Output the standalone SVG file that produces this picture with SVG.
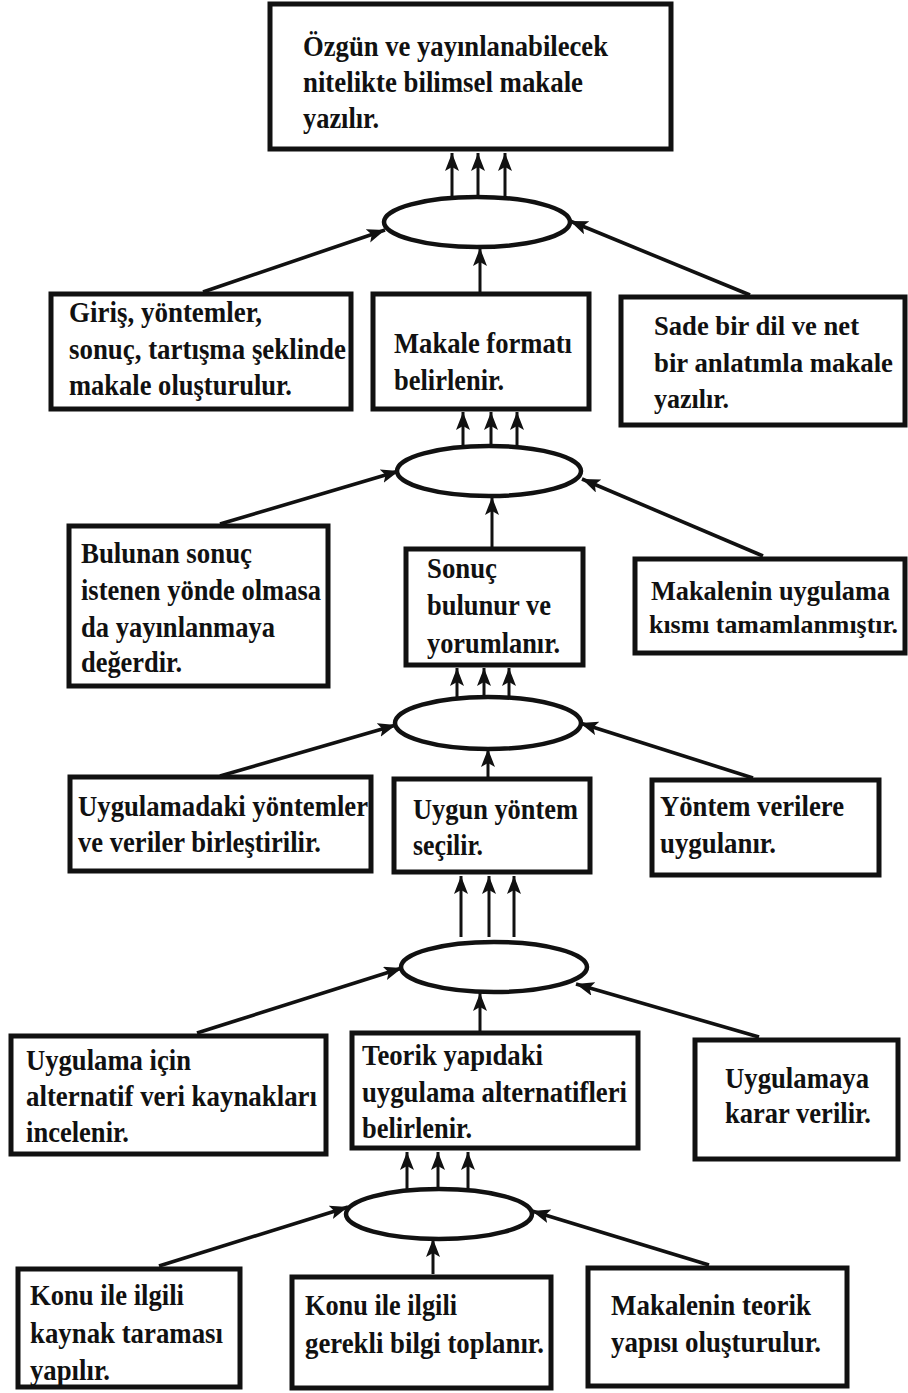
<svg xmlns="http://www.w3.org/2000/svg" width="908" height="1393" viewBox="0 0 908 1393">
<style>
.box{fill:#fff;stroke:#111;stroke-width:5}
.ell{fill:#fff;stroke:#111;stroke-width:4.5}
.t{font-family:"Liberation Serif","Times New Roman",serif;font-weight:bold;font-size:29px;fill:#111}
.s28{font-size:28px}
.s27{font-size:27px}
.s26{font-size:26px}
.c{stroke:#111;stroke-width:3.6;fill:none;marker-end:url(#ah)}
.v{stroke:#111;stroke-width:3;fill:none;marker-end:url(#ah)}
</style>
<defs>
<marker id="ah" markerUnits="userSpaceOnUse" markerWidth="19" markerHeight="15" refX="18" refY="7" orient="auto">
<path d="M0,0 L18,7 L0,14 L4,7 z" fill="#111"/>
</marker>
</defs>
<rect width="908" height="1393" fill="#fff"/>

<g id="connectors">
<line class="v" x1="452" y1="197" x2="452" y2="153"/>
<line class="v" x1="478" y1="197" x2="478" y2="153"/>
<line class="v" x1="505" y1="197" x2="505" y2="153"/>
<line class="c" x1="203" y1="292" x2="385" y2="230"/>
<line class="v" x1="480" y1="292" x2="480" y2="248"/>
<line class="c" x1="750" y1="295" x2="570" y2="221"/>

<line class="v" x1="463" y1="447" x2="463" y2="412"/>
<line class="v" x1="491" y1="447" x2="491" y2="412"/>
<line class="v" x1="517" y1="447" x2="517" y2="412"/>
<line class="c" x1="220" y1="524" x2="399" y2="471"/>
<line class="v" x1="492" y1="547" x2="492" y2="497"/>
<line class="c" x1="763" y1="556" x2="582" y2="479"/>

<line class="v" x1="457" y1="698" x2="457" y2="668"/>
<line class="v" x1="484" y1="698" x2="484" y2="668"/>
<line class="v" x1="509" y1="698" x2="509" y2="668"/>
<line class="c" x1="220" y1="776" x2="396" y2="725"/>
<line class="v" x1="488" y1="777" x2="488" y2="749"/>
<line class="c" x1="753" y1="778" x2="580" y2="723"/>

<line class="v" x1="461" y1="937" x2="461" y2="876"/>
<line class="v" x1="489" y1="937" x2="489" y2="876"/>
<line class="v" x1="514" y1="937" x2="514" y2="876"/>
<line class="c" x1="197" y1="1033" x2="402" y2="968"/>
<line class="v" x1="480" y1="1032" x2="480" y2="993"/>
<line class="c" x1="759" y1="1037" x2="576" y2="984"/>

<line class="v" x1="407" y1="1190" x2="407" y2="1152"/>
<line class="v" x1="438" y1="1190" x2="438" y2="1152"/>
<line class="v" x1="468" y1="1190" x2="468" y2="1152"/>
<line class="c" x1="159" y1="1266" x2="348" y2="1207"/>
<line class="v" x1="433" y1="1274" x2="433" y2="1239"/>
<line class="c" x1="709" y1="1265" x2="532" y2="1211"/>
</g>

<g id="e1"><ellipse class="ell" cx="477" cy="222" rx="93" ry="25"/></g>
<g id="e2"><ellipse class="ell" cx="489" cy="471" rx="92" ry="25"/></g>
<g id="e3"><ellipse class="ell" cx="488" cy="723" rx="93" ry="26"/></g>
<g id="e4"><ellipse class="ell" cx="494" cy="967" rx="93" ry="25"/></g>
<g id="e5"><ellipse class="ell" cx="439" cy="1214" rx="93" ry="25"/></g>

<g id="n1"><rect class="box" x="270" y="4" width="401" height="145"/>
<text class="t"><tspan x="303" y="56" textLength="305" lengthAdjust="spacingAndGlyphs">Özgün ve yayınlanabilecek</tspan><tspan x="303" y="92" textLength="280" lengthAdjust="spacingAndGlyphs">nitelikte bilimsel makale</tspan><tspan x="303" y="128" textLength="76" lengthAdjust="spacingAndGlyphs">yazılır.</tspan></text></g>

<g id="n2"><rect class="box" x="51" y="294" width="300" height="115"/>
<text class="t"><tspan x="69" y="322" textLength="193" lengthAdjust="spacingAndGlyphs">Giriş, yöntemler,</tspan><tspan x="69" y="359" textLength="277" lengthAdjust="spacingAndGlyphs">sonuç, tartışma şeklinde</tspan><tspan x="69" y="395" textLength="223" lengthAdjust="spacingAndGlyphs">makale oluşturulur.</tspan></text></g>

<g id="n3"><rect class="box" x="373" y="294" width="216" height="115"/>
<text class="t"><tspan x="394" y="353" textLength="178" lengthAdjust="spacingAndGlyphs">Makale formatı</tspan><tspan x="394" y="390" textLength="110" lengthAdjust="spacingAndGlyphs">belirlenir.</tspan></text></g>

<g id="n4"><rect class="box" x="621" y="297" width="284" height="128"/>
<text class="t s28"><tspan x="654" y="335" textLength="205" lengthAdjust="spacingAndGlyphs">Sade bir dil ve net</tspan><tspan x="654" y="372" textLength="239" lengthAdjust="spacingAndGlyphs">bir anlatımla makale</tspan><tspan x="654" y="408" textLength="75" lengthAdjust="spacingAndGlyphs">yazılır.</tspan></text></g>

<g id="n5"><rect class="box" x="69" y="526" width="259" height="160"/>
<text class="t"><tspan x="81" y="563" textLength="171" lengthAdjust="spacingAndGlyphs">Bulunan sonuç</tspan><tspan x="81" y="600" textLength="240" lengthAdjust="spacingAndGlyphs">istenen yönde olmasa</tspan><tspan x="81" y="637" textLength="194" lengthAdjust="spacingAndGlyphs">da yayınlanmaya</tspan><tspan x="81" y="672" textLength="101" lengthAdjust="spacingAndGlyphs">değerdir.</tspan></text></g>

<g id="n6"><rect class="box" x="406" y="549" width="177" height="116"/>
<text class="t"><tspan x="427" y="578" textLength="70" lengthAdjust="spacingAndGlyphs">Sonuç</tspan><tspan x="427" y="615" textLength="124" lengthAdjust="spacingAndGlyphs">bulunur ve</tspan><tspan x="427" y="653" textLength="133" lengthAdjust="spacingAndGlyphs">yorumlanır.</tspan></text></g>

<g id="n7"><rect class="box" x="635" y="559" width="270" height="94"/>
<text class="t s27" x="651" y="600" textLength="239" lengthAdjust="spacingAndGlyphs">Makalenin uygulama</text>
<text class="t s26" x="649" y="633" textLength="249" lengthAdjust="spacingAndGlyphs">kısmı tamamlanmıştır.</text></g>

<g id="n8"><rect class="box" x="70" y="777" width="301" height="94"/>
<text class="t"><tspan x="78" y="816" textLength="290" lengthAdjust="spacingAndGlyphs">Uygulamadaki yöntemler</tspan><tspan x="78" y="852" textLength="243" lengthAdjust="spacingAndGlyphs">ve veriler birleştirilir.</tspan></text></g>

<g id="n9"><rect class="box" x="394" y="779" width="196" height="93"/>
<text class="t"><tspan x="413" y="819" textLength="165" lengthAdjust="spacingAndGlyphs">Uygun yöntem</tspan><tspan x="413" y="855" textLength="70" lengthAdjust="spacingAndGlyphs">seçilir.</tspan></text></g>

<g id="n10"><rect class="box" x="652" y="780" width="227" height="95"/>
<text class="t"><tspan x="660" y="816" textLength="184" lengthAdjust="spacingAndGlyphs">Yöntem verilere</tspan><tspan x="660" y="853" textLength="116" lengthAdjust="spacingAndGlyphs">uygulanır.</tspan></text></g>

<g id="n11"><rect class="box" x="11" y="1036" width="315" height="118"/>
<text class="t"><tspan x="26" y="1070" textLength="165" lengthAdjust="spacingAndGlyphs">Uygulama için</tspan><tspan x="26" y="1106" textLength="291" lengthAdjust="spacingAndGlyphs">alternatif veri kaynakları</tspan><tspan x="26" y="1142" textLength="103" lengthAdjust="spacingAndGlyphs">incelenir.</tspan></text></g>

<g id="n12"><rect class="box" x="352" y="1033" width="286" height="115"/>
<text class="t"><tspan x="362" y="1065" textLength="181" lengthAdjust="spacingAndGlyphs">Teorik yapıdaki</tspan><tspan x="362" y="1102" textLength="265" lengthAdjust="spacingAndGlyphs">uygulama alternatifleri</tspan><tspan x="362" y="1138" textLength="110" lengthAdjust="spacingAndGlyphs">belirlenir.</tspan></text></g>

<g id="n13"><rect class="box" x="695" y="1040" width="203" height="119"/>
<text class="t"><tspan x="725" y="1088" textLength="144" lengthAdjust="spacingAndGlyphs">Uygulamaya</tspan><tspan x="725" y="1123" textLength="146" lengthAdjust="spacingAndGlyphs">karar verilir.</tspan></text></g>

<g id="n14"><rect class="box" x="18" y="1269" width="222" height="118"/>
<text class="t"><tspan x="30" y="1305" textLength="154" lengthAdjust="spacingAndGlyphs">Konu ile ilgili</tspan><tspan x="30" y="1343" textLength="193" lengthAdjust="spacingAndGlyphs">kaynak taraması</tspan><tspan x="30" y="1380" textLength="80" lengthAdjust="spacingAndGlyphs">yapılır.</tspan></text></g>

<g id="n15"><rect class="box" x="292" y="1277" width="259" height="111"/>
<text class="t"><tspan x="305" y="1315" textLength="152" lengthAdjust="spacingAndGlyphs">Konu ile ilgili</tspan><tspan x="305" y="1353" textLength="239" lengthAdjust="spacingAndGlyphs">gerekli bilgi toplanır.</tspan></text></g>

<g id="n16"><rect class="box" x="588" y="1268" width="259" height="118"/>
<text class="t"><tspan x="611" y="1315" textLength="200" lengthAdjust="spacingAndGlyphs">Makalenin teorik</tspan><tspan x="611" y="1352" textLength="210" lengthAdjust="spacingAndGlyphs">yapısı oluşturulur.</tspan></text></g>
</svg>
